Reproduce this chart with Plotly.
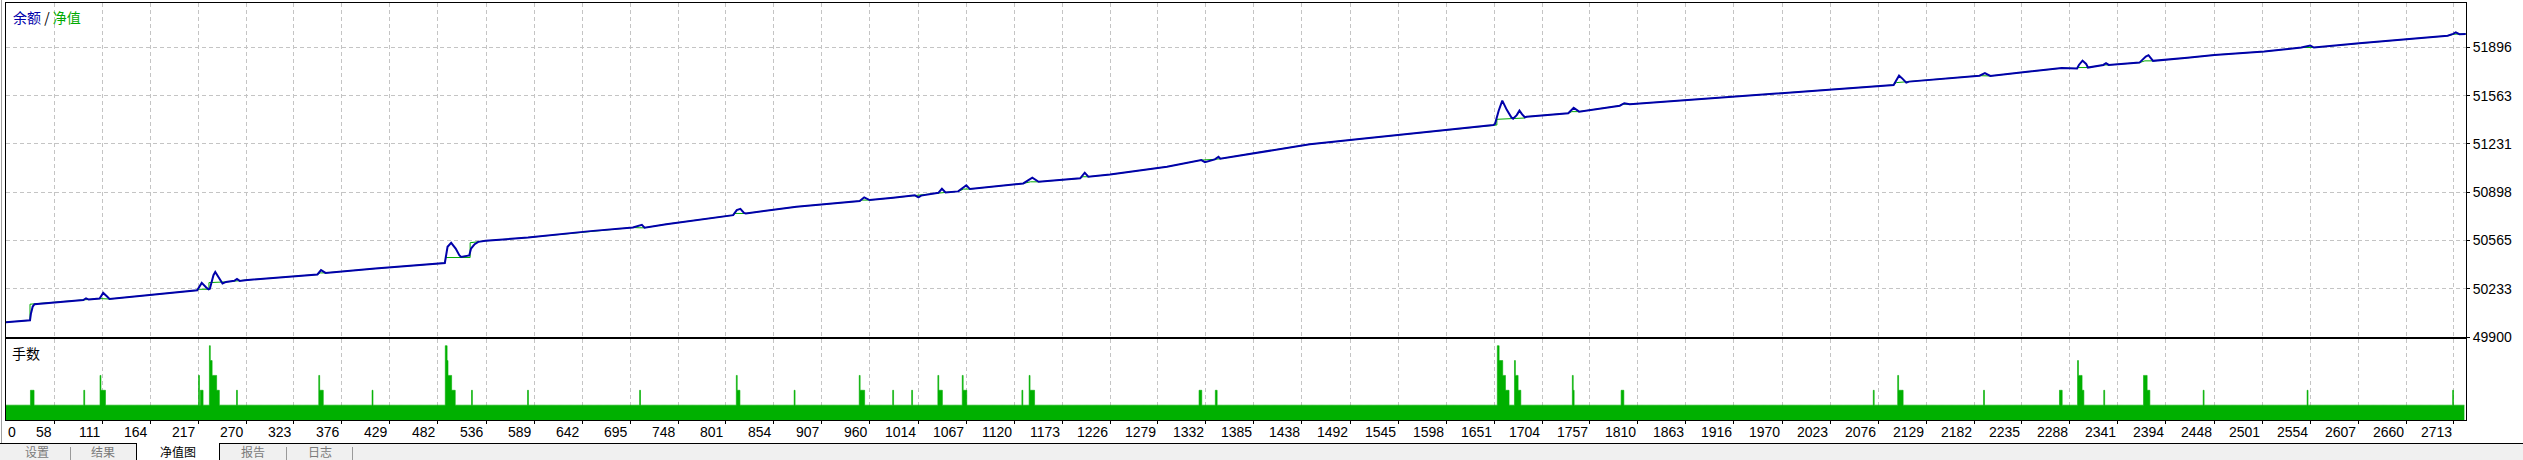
import plotly.graph_objects as go

# ---------------- data ----------------
# Blue line (余额) : trade index / value
blue_idx = [0, 31, 32, 34, 36, 90, 93, 96, 108, 112, 116, 119, 216, 221, 226, 228.6, 230, 234, 236, 241, 244, 248,
            257, 260, 263, 269, 349, 353, 358, 413, 485, 490, 491, 493, 497, 502, 506, 508, 517, 519, 523, 527, 535,
            582, 651, 698, 708, 711, 735, 809, 813, 817, 821, 823, 879, 949, 954, 960, 986, 1010, 1014, 1017, 1036,
            1040, 1044, 1058, 1067, 1071, 1130, 1140, 1147, 1193, 1198, 1202, 1226, 1289, 1327, 1331, 1342, 1346,
            1348, 1384, 1447, 1502, 1547, 1569, 1650, 1652, 1656, 1660, 1665, 1670, 1672, 1676, 1679, 1682, 1685,
            1687, 1733, 1739, 1745, 1790, 1795, 1801, 1970, 2093, 2096, 2099, 2103, 2107, 2110, 2188, 2194, 2200,
            2236, 2279, 2296, 2298, 2302, 2306, 2308, 2325, 2328, 2331, 2365, 2372, 2375, 2378, 2380, 2418, 2448,
            2503, 2544, 2554, 2558, 2608, 2662, 2706, 2712, 2715, 2719, 2726]
blue_val = [50000, 50015, 50060, 50110, 50126, 50155, 50167, 50158, 50165, 50204, 50181, 50162, 50222, 50273, 50241,
            50229, 50232, 50326, 50349, 50303, 50269, 50280, 50288, 50300, 50287, 50292, 50331, 50361, 50342, 50372,
            50407, 50410, 50448, 50522, 50549, 50510, 50464, 50452, 50462, 50510, 50540, 50556, 50563, 50586, 50630,
            50655, 50673, 50653, 50678, 50740, 50775, 50784, 50756, 50752, 50798, 50837, 50863, 50844, 50860, 50877,
            50863, 50875, 50894, 50922, 50897, 50904, 50946, 50920, 50959, 50998, 50970, 50994, 51033, 51005, 51020,
            51074, 51120, 51106, 51125, 51143, 51129, 51167, 51229, 51265, 51293, 51309, 51362, 51370, 51460, 51530,
            51466, 51415, 51405, 51430, 51461, 51435, 51415, 51419, 51443, 51481, 51454, 51495, 51512, 51505, 51581,
            51638, 51670, 51702, 51680, 51654, 51661, 51702, 51719, 51700, 51726, 51754, 51751, 51776, 51806, 51783,
            51758, 51776, 51788, 51776, 51792, 51834, 51843, 51823, 51804, 51825, 51845, 51868, 51896, 51910, 51896,
            51926, 51954, 51977, 51990, 52000, 51988, 51990]

# Green line (净值) : trade index / value
green_idx = [0, 31, 31, 90, 108, 119, 216, 216, 229, 229, 248, 269, 349, 352, 358, 413, 485, 490, 491, 518, 518, 526,
             535, 582, 651, 698, 705, 711, 735, 809, 811, 823, 879, 949, 951, 960, 986, 1036, 1038, 1044, 1058, 1064,
             1071, 1130, 1138, 1147, 1193, 1196, 1202, 1226, 1289, 1327, 1342, 1345, 1348, 1384, 1447, 1502, 1547,
             1569, 1650, 1654, 1654, 1685, 1687, 1733, 1737, 1745, 1790, 1793, 1801, 1970, 2093, 2096, 2110, 2188,
             2200, 2236, 2279, 2296, 2297, 2308, 2325, 2331, 2365, 2371, 2380, 2418, 2448, 2503, 2544, 2558, 2608,
             2662, 2706, 2713, 2726]
green_val = [50000, 50015, 50126, 50155, 50165, 50162, 50222, 50229, 50229, 50275, 50280, 50292, 50331, 50342, 50342,
             50372, 50407, 50410, 50448, 50448, 50550, 50556, 50563, 50586, 50630, 50655, 50653, 50653, 50678, 50740,
             50752, 50752, 50798, 50837, 50844, 50844, 50860, 50894, 50897, 50897, 50904, 50920, 50920, 50959, 50970,
             50970, 50994, 51005, 51005, 51020, 51074, 51120, 51125, 51129, 51129, 51167, 51229, 51265, 51293, 51309,
             51362, 51362, 51401, 51410, 51419, 51443, 51454, 51454, 51495, 51505, 51505, 51581, 51638, 51654, 51661,
             51702, 51700, 51726, 51754, 51751, 51758, 51758, 51776, 51776, 51792, 51804, 51804, 51825, 51845, 51868,
             51896, 51896, 51926, 51954, 51977, 51988, 51990]

# Lots (手数): every trade has 1 unit, with these spikes
n_trades = 2725
base_lots = 1
spike_start = [32, 91, 109, 110, 218, 220, 230, 231, 233, 238, 260, 351, 352, 410, 491, 493, 494, 498, 520, 582, 706,
               813, 814, 877, 949, 950, 986, 1007, 1036, 1037, 1063, 1064, 1129, 1137, 1138, 1325, 1343, 1655, 1657,
               1661, 1664, 1674, 1675, 1678, 1738, 1739, 1792, 2071, 2098, 2099, 2193, 2277, 2297, 2298, 2302, 2326,
               2370, 2374, 2436, 2551, 2712]
spike_end = [35, 91, 109, 114, 218, 222, 230, 232, 237, 240, 260, 351, 355, 410, 492, 493, 497, 501, 520, 582, 706,
             813, 816, 877, 949, 954, 986, 1007, 1036, 1040, 1063, 1067, 1129, 1137, 1142, 1327, 1344, 1656, 1660,
             1663, 1667, 1674, 1677, 1680, 1738, 1739, 1794, 2071, 2098, 2103, 2193, 2279, 2297, 2301, 2303, 2326,
             2373, 2376, 2436, 2551, 2712]
spike_lots = [2, 2, 3, 2, 3, 2, 5, 4, 3, 2, 2, 3, 2, 2, 5, 4, 3, 2, 2, 2, 2,
              3, 2, 2, 3, 2, 2, 2, 3, 2, 3, 2, 2, 3, 2, 2, 2, 5, 4,
              3, 2, 4, 3, 2, 3, 2, 2, 2, 3, 2, 2, 2, 4, 3, 2, 2,
              3, 2, 2, 2, 2]

x_tick_labels = [0, 58, 111, 164, 217, 270, 323, 376, 429, 482, 536, 589, 642, 695, 748, 801, 854, 907, 960, 1014,
                 1067, 1120, 1173, 1226, 1279, 1332, 1385, 1438, 1492, 1545, 1598, 1651, 1704, 1757, 1810, 1863, 1916,
                 1970, 2023, 2076, 2129, 2182, 2235, 2288, 2341, 2394, 2448, 2501, 2554, 2607, 2660, 2713]
y_tick_labels = [49900, 50233, 50565, 50898, 51231, 51563, 51896]

tab_labels = ["设置", "结果", "净值图", "报告", "日志"]

# ---------------- build ----------------
lots = [base_lots] * n_trades
for s, e, l in zip(spike_start, spike_end, spike_lots):
    for i in range(s, e + 1):
        lots[i] = l
lots_x = [i - 0.5 for i in range(n_trades)] + [n_trades - 0.5]
lots_y = lots + [lots[-1]]

W, H = 2523, 460
ML, MR, MT, MB = 6, 57, 3, 40
PW, PH = W - ML - MR, H - MT - MB
X_RANGE = [4.45, 2726.3]


def px_x(px):
    return (px - ML) / PW


def px_y(py):
    return (H - MB - py) / PH


BLUE = "#0000AA"
GREEN = "#00AA00"
BAR_GREEN = "#00B000"
GRID = "#c4c4c4"
FONT = "Liberation Sans, Arial, sans-serif"
CJK = "Noto Sans CJK SC, sans-serif"

fig = go.Figure()
fig.add_trace(go.Scatter(x=green_idx, y=green_val, mode="lines", line=dict(color=GREEN, width=1),
                         xaxis="x", yaxis="y", showlegend=False, hoverinfo="skip"))
fig.add_trace(go.Scatter(x=blue_idx, y=blue_val, mode="lines", line=dict(color=BLUE, width=2),
                         xaxis="x", yaxis="y", showlegend=False))
fig.add_trace(go.Scatter(x=lots_x, y=lots_y, mode="lines",
                         line=dict(color=BAR_GREEN, width=0.6, shape="hv", simplify=False),
                         fill="tozeroy", fillcolor=BAR_GREEN, xaxis="x2", yaxis="y2", showlegend=False))

main_bottom = px_y(337)
sub_top = px_y(339)

axis_common = dict(showline=True, mirror=True, linecolor="black", linewidth=1, zeroline=False)

fig.update_layout(
    width=W, height=H,
    margin=dict(l=ML, r=MR, t=MT, b=MB, pad=0),
    paper_bgcolor="white", plot_bgcolor="white",
    showlegend=False,
    xaxis=dict(domain=[0, 1], range=X_RANGE, anchor="y", tickvals=x_tick_labels[1:], showticklabels=False,
               ticks="", showgrid=True, gridcolor=GRID, griddash="4px,3px", gridwidth=1, **axis_common),
    yaxis=dict(domain=[main_bottom, 1], range=[49900, 52203], side="right", anchor="x",
               tickvals=y_tick_labels, ticktext=[str(v) for v in y_tick_labels], ticks="outside", ticklen=3,
               tickcolor="black", tickfont=dict(family=FONT, size=14, color="black"),
               showgrid=True, gridcolor=GRID, griddash="4px,3px", gridwidth=1, **axis_common),
    xaxis2=dict(domain=[0, 1], range=X_RANGE, anchor="y2", matches="x", tickvals=x_tick_labels[1:],
                showticklabels=False, ticks="outside", ticklen=3, tickcolor="black",
                showgrid=True, gridcolor=GRID, griddash="4px,3px", gridwidth=1, **axis_common),
    yaxis2=dict(domain=[0, sub_top], range=[0, 5.45], anchor="x2", showticklabels=False, ticks="",
                showgrid=False, **axis_common),
)

annotations = []
# legend-like title
annotations.append(dict(xref="paper", yref="paper", x=0, y=1, xanchor="left", yanchor="middle", xshift=5, yshift=-13.5,
                        showarrow=False, font=dict(family=CJK, size=14, color="black"),
                        text=f'<span style="color:{BLUE}">余额</span> / <span style="color:{GREEN}">净值</span>'))
annotations.append(dict(xref="paper", yref="paper", x=0, y=sub_top, xanchor="left", yanchor="middle", xshift=4,
                        yshift=-14, showarrow=False, font=dict(family=CJK, size=14, color="black"), text="手数"))
# x tick labels (right-aligned to the tick, as in the terminal)
for v in x_tick_labels:
    if v == 0:
        annotations.append(dict(xref="x2", yref="paper", x=X_RANGE[0], y=0, xanchor="left", yanchor="middle",
                                yshift=-12, showarrow=False, text="0", font=dict(family=FONT, size=14, color="black")))
    else:
        annotations.append(dict(xref="x2", yref="paper", x=v, y=0, xanchor="right", yanchor="middle",
                                yshift=-12, showarrow=False, text=str(v), font=dict(family=FONT, size=14, color="black")))

# tab bar (labels kept fully inside the page)
tab_centers = [36.7, 102.5, 178, 252.5, 319.5]
for i, (lab, cx) in enumerate(zip(tab_labels, tab_centers)):
    annotations.append(dict(xref="paper", yref="paper", x=px_x(cx), y=px_y(451.5), xanchor="center", yanchor="middle",
                            showarrow=False, text=lab, borderpad=0,
                            font=dict(family=CJK, size=12, color="black" if i == 2 else "#7a7a7a")))
fig.update_layout(annotations=annotations)

shapes = [
    dict(type="rect", xref="paper", yref="paper", x0=px_x(0), x1=px_x(W), y0=px_y(443), y1=px_y(H + 2),
         fillcolor="#f0f0f0", line=dict(width=0), layer="below"),
    dict(type="rect", xref="paper", yref="paper", x0=px_x(136.5), x1=px_x(219.5), y0=px_y(442), y1=px_y(H + 2),
         fillcolor="white", line=dict(width=0), layer="below"),
    dict(type="line", xref="paper", yref="paper", x0=px_x(0), x1=px_x(136.5), y0=px_y(443.5), y1=px_y(443.5),
         line=dict(color="black", width=1)),
    dict(type="line", xref="paper", yref="paper", x0=px_x(219.5), x1=px_x(W), y0=px_y(443.5), y1=px_y(443.5),
         line=dict(color="black", width=1)),
    dict(type="line", xref="paper", yref="paper", x0=px_x(136.5), x1=px_x(136.5), y0=px_y(443), y1=px_y(H + 2),
         line=dict(color="black", width=1)),
    dict(type="line", xref="paper", yref="paper", x0=px_x(219.5), x1=px_x(219.5), y0=px_y(443), y1=px_y(H + 2),
         line=dict(color="black", width=1)),
    dict(type="line", xref="paper", yref="paper", x0=px_x(1.5), x1=px_x(1.5), y0=px_y(0), y1=px_y(443),
         line=dict(color="#a0a0a0", width=1)),
]
for dx in [70.5, 286.5, 352.5]:
    shapes.append(dict(type="line", xref="paper", yref="paper", x0=px_x(dx), x1=px_x(dx), y0=px_y(447), y1=px_y(H + 2),
                       line=dict(color="#9a9a9a", width=1)))
fig.update_layout(shapes=shapes)

fig.write_html("out.html", config={"displayModeBar": False},
               post_script="document.body.style.margin='0';document.body.style.overflow='hidden';")
